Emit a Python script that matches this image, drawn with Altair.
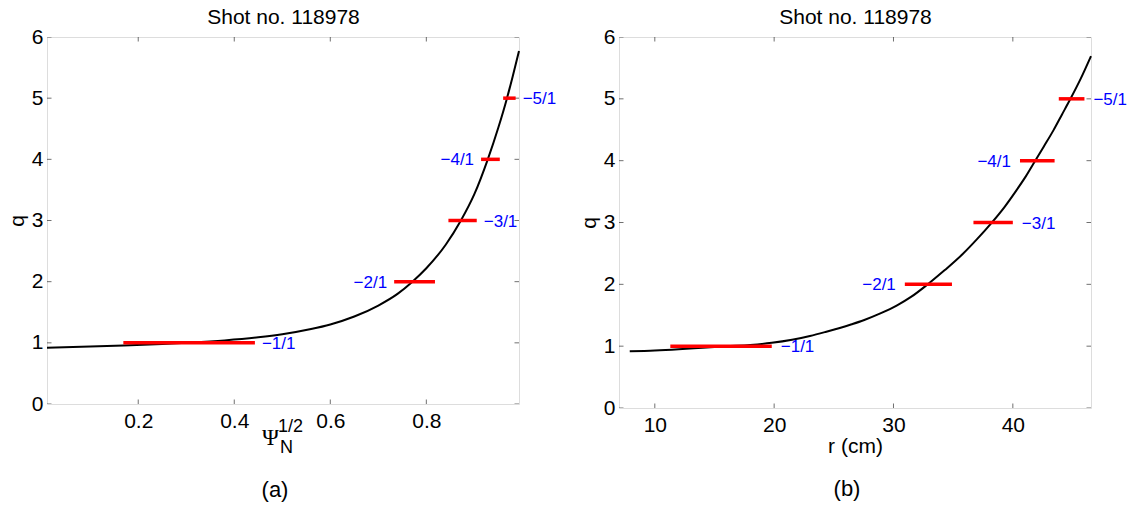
import altair as alt
import pandas as pd

FONT = "Liberation Sans"

# ---------- shared values ----------
q_modes = [1, 2, 3, 4, 5]
mode_labels = ["−1/1", "−2/1", "−3/1", "−4/1", "−5/1"]
label_side = ["right", "left", "right", "left", "right"]
q_ticks = [0, 1, 2, 3, 4, 5, 6]
q_domain = [0, 6]
panel_title = "Shot no. 118978"

# ---------- panel (a): q vs sqrt(psi_N) ----------
psi_curve = [0.01, 0.1, 0.17, 0.25, 0.31, 0.38, 0.45, 0.5, 0.56, 0.6, 0.65, 0.7,
             0.74, 0.771, 0.8, 0.84, 0.872, 0.9, 0.928, 0.95, 0.968, 0.98, 0.993]
q_curve_a = [0.92, 0.94, 0.958, 0.982, 1.005, 1.04, 1.09, 1.14, 1.225, 1.30, 1.43, 1.61,
             1.80, 2.0, 2.22, 2.6, 3.0, 3.43, 4.0, 4.52, 5.0, 5.36, 5.77]
bar_start_a = [0.169, 0.733, 0.846, 0.914, 0.960]
bar_end_a = [0.443, 0.818, 0.905, 0.953, 0.986]
psi_ticks = [0.2, 0.4, 0.6, 0.8]
psi_domain = [0.01, 0.993]

# ---------- panel (b): q vs r ----------
r_curve = [7.9, 10.0, 12.0, 14.0, 16.0, 18.0, 19.8, 21.5, 23.0, 24.3, 25.5, 26.5,
           27.5, 28.9, 30.3, 31.5, 32.8, 34.3, 35.8, 37.0, 38.2, 39.3, 40.3, 41.1,
           41.85, 42.6, 43.4, 44.1, 44.83, 45.7, 46.55]
q_curve_b = [0.917, 0.93, 0.95, 0.975, 1.0, 1.02, 1.055, 1.105, 1.165, 1.23, 1.295,
             1.355, 1.42, 1.53, 1.66, 1.80, 1.99, 2.23, 2.49, 2.73, 2.99, 3.25, 3.52,
             3.75, 3.99, 4.23, 4.49, 4.74, 5.0, 5.33, 5.69]
bar_start_b = [11.3, 30.95, 36.7, 40.6, 43.85]
bar_end_b = [19.8, 34.9, 40.0, 43.5, 46.0]
r_ticks = [10, 20, 30, 40]
r_domain = [7.0, 46.55]


def panel(xc, qc, bs, be, xdom, xticks, width, height, bottom_axis, caption,
          label_dx, extra_layers=()):
    curve = pd.DataFrame({"x": xc, "q": qc})
    modes = pd.DataFrame({"x1": bs, "x2": be, "q": q_modes,
                          "label": mode_labels, "side": label_side})
    xticks_df = pd.DataFrame([{"x": t, "q": yy} for t in xticks for yy in q_domain])
    yticks_df = pd.DataFrame([{"x": xx, "q": t} for t in q_ticks for xx in xdom])

    xs = alt.Scale(domain=xdom, nice=False, zero=False)
    ys = alt.Scale(domain=q_domain, nice=False, zero=False)

    left_axis = alt.Axis(orient="left", values=q_ticks, ticks=False, domain=False,
                         grid=False, labelPadding=4, labelFontSize=21, labelFont=FONT,
                         labelColor="black", title="q", titleFont=FONT,
                         titleFontSize=21, titleFontWeight="normal",
                         titleColor="black", titlePadding=4)

    line = alt.Chart(curve).mark_line(color="black", strokeWidth=2,
                                      interpolate="monotone").encode(
        x=alt.X("x:Q", scale=xs, axis=bottom_axis),
        y=alt.Y("q:Q", scale=ys, axis=left_axis),
    )

    top_axis = alt.Axis(orient="top", labels=False, ticks=False, domain=False,
                        grid=False, title=panel_title, titleFont=FONT,
                        titleFontSize=21, titleFontWeight="normal",
                        titleColor="black", titlePadding=10)
    xt = alt.Chart(xticks_df).mark_tick(orient="vertical", size=9, thickness=1,
                                        clip=True, color="#333333").encode(
        x=alt.X("x:Q", scale=xs, axis=top_axis),
        y=alt.Y("q:Q", scale=ys, axis=None),
    )
    yt = alt.Chart(yticks_df).mark_tick(orient="horizontal", size=9, thickness=1,
                                        clip=True, color="#333333").encode(
        x=alt.X("x:Q", scale=xs, axis=None),
        y=alt.Y("q:Q", scale=ys, axis=None),
    )

    bars = alt.Chart(modes).mark_rule(color="#ff0000", strokeWidth=3.5).encode(
        x=alt.X("x1:Q", scale=xs, axis=None),
        x2="x2:Q",
        y=alt.Y("q:Q", scale=ys, axis=None),
    )
    lab_r = alt.Chart(modes).transform_filter(alt.datum.side == "right").mark_text(
        align="left", baseline="middle", dx=label_dx, dy=1, fontSize=17, font=FONT,
        color="#0000ff").encode(
        x=alt.X("x2:Q", scale=xs, axis=None),
        y=alt.Y("q:Q", scale=ys, axis=None),
        text="label:N",
    )
    lab_l = alt.Chart(modes).transform_filter(alt.datum.side == "left").mark_text(
        align="right", baseline="middle", dx=-label_dx, dy=1, fontSize=17, font=FONT,
        color="#0000ff").encode(
        x=alt.X("x1:Q", scale=xs, axis=None),
        y=alt.Y("q:Q", scale=ys, axis=None),
        text="label:N",
    )

    layers = [xt, yt, line, bars, lab_r, lab_l] + list(extra_layers)
    return alt.layer(*layers).resolve_axis(x="independent", y="independent").properties(
        width=width, height=height,
        title=alt.TitleParams(caption, orient="bottom", anchor="middle", frame="group",
                              offset=23, dx=-8, fontSize=22, fontWeight="normal",
                              font=FONT, color="black"),
    )


# x-axis title of panel (a): Psi_N^{1/2}
axis_a = alt.Axis(orient="bottom", values=psi_ticks, format=".1f", ticks=False,
                  domain=False, grid=False, labelPadding=6, labelFontSize=21,
                  labelFont=FONT, labelColor="black", labelFlush=False,
                  title="Ψ", titleFont="Liberation Serif", titleFontSize=23,
                  titleFontWeight="normal", titleColor="black", titleX=223,
                  titleY=33, titleBaseline="middle", titleAlign="center")
sup_a = alt.Chart(pd.DataFrame({"t": ["1/2"]})).mark_text(
    align="left", baseline="middle", fontSize=18, font=FONT, color="black").encode(
    x=alt.value(231), y=alt.value(390), text="t:N")
sub_a = alt.Chart(pd.DataFrame({"t": ["N"]})).mark_text(
    align="left", baseline="middle", fontSize=18, font=FONT, color="black").encode(
    x=alt.value(233), y=alt.value(411), text="t:N")

axis_b = alt.Axis(orient="bottom", values=r_ticks, format="d", ticks=False,
                  domain=False, grid=False, labelPadding=6, labelFontSize=21,
                  labelFont=FONT, labelColor="black", labelFlush=False,
                  title="r (cm)", titleFont=FONT, titleFontSize=21,
                  titleFontWeight="normal", titleColor="black", titlePadding=0)

left = panel(psi_curve, q_curve_a, bar_start_a, bar_end_a, psi_domain, psi_ticks,
             472, 367, axis_a, "(a)", 7, [sup_a, sub_a])
right = panel(r_curve, q_curve_b, bar_start_b, bar_end_b, r_domain, r_ticks,
              472, 371, axis_b, "(b)", 9)

chart = alt.hconcat(left, right, spacing=100, bounds="flush").properties(
    padding={"left": 5, "top": 5, "right": 0, "bottom": 0}
).configure_view(stroke="black", strokeWidth=1.3).configure(background="white")

chart.save("out.html", embed_options={"renderer": "svg", "actions": False})
